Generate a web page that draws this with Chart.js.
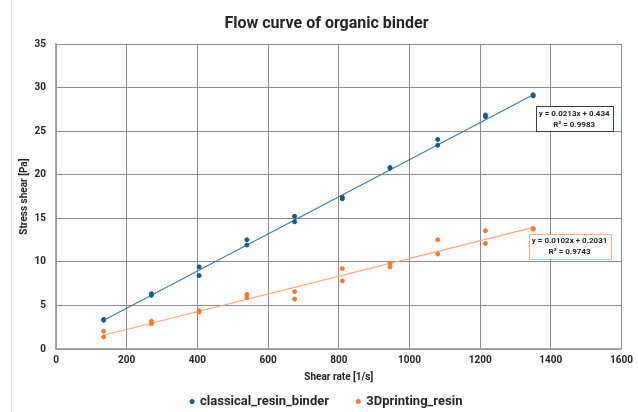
<!DOCTYPE html>
<html>
<head>
<meta charset="utf-8">
<script src="https://cdn.jsdelivr.net/npm/chart.js@4/dist/chart.umd.min.js"></script>
<style>
  html, body { margin: 0; padding: 0; background: #fff; }
  #wrap { position: relative; width: 638px; height: 412px; }
  #wrap:before { content: ''; position: absolute; left: 11px; top: 0; bottom: 0; border-left: 1px solid #d9d9d9; }
</style>
</head>
<body>
<div id="wrap"><canvas id="flowChart" width="638" height="412"></canvas></div>
<script>
// Shear rates [1/s], two measurements per rate
const shearRates = [135, 270, 405, 540, 675, 810, 945, 1080, 1215, 1350];
const classicalRun1 = [3.40, 6.35, 9.43, 12.55, 15.24, 17.43, 20.85, 24.06, 26.87, 29.20];
const classicalRun2 = [3.30, 6.16, 8.43, 11.94, 14.60, 17.25, 20.75, 23.40, 26.67, 29.05];
const printingRun1 = [2.04, 3.20, 4.39, 6.28, 6.58, 9.24, 9.82, 12.55, 13.59, 13.85];
const printingRun2 = [1.39, 2.89, 4.24, 5.89, 5.74, 7.82, 9.44, 10.90, 12.12, 13.75];

// Trendline coefficients as printed on the chart
const classicalFit = { slope: 0.0213, intercept: 0.434, label: ['y = 0.0213x + 0.434', 'R² = 0.9983'] };
const printingFit = { slope: 0.0102, intercept: 0.2031, label: ['y = 0.0102x + 0.2031', 'R² = 0.9743'] };

const FONT = 'Roboto, "Noto Sans", sans-serif';
const BLUE = '#1b5a82';
const ORANGE = '#ee7d35';

function points(xs, ys) {
    return xs.map((x, i) => ({ x: x, y: ys[i] }));
}

function fitLine(fit) {
    const x0 = shearRates[0];
    const x1 = shearRates[shearRates.length - 1];
    return [
        { x: x0, y: fit.slope * x0 + fit.intercept },
        { x: x1, y: fit.slope * x1 + fit.intercept }
    ];
}

// Draws the equation boxes next to the trendlines
const equationBoxes = {
    id: 'equationBoxes',
    afterDatasetsDraw(chart) {
        const ctx = chart.ctx;
        const xs = chart.scales.x, ys = chart.scales.y;
        const boxes = [
            { fit: classicalFit, x: 1466, y: 26.45, border: '#243f60' },
            { fit: printingFit, x: 1453, y: 11.8, border: '#f4b183' }
        ];
        ctx.save();
        ctx.font = 'bold 8px ' + FONT;
        ctx.textAlign = 'center';
        ctx.textBaseline = 'middle';
        boxes.forEach(b => {
            const cx = xs.getPixelForValue(b.x);
            const cy = ys.getPixelForValue(b.y);
            const w = Math.max(...b.fit.label.map(t => ctx.measureText(t).width)) + 6;
            const h = 25;
            ctx.fillStyle = '#fff';
            ctx.fillRect(cx - w / 2, cy - h / 2, w, h);
            ctx.strokeStyle = b.border;
            ctx.lineWidth = 1;
            ctx.strokeRect(Math.round(cx - w / 2) + 0.5, Math.round(cy - h / 2) + 0.5, Math.round(w), h);
            ctx.fillStyle = '#262626';
            ctx.fillText(b.fit.label[0], cx, cy - 5);
            ctx.fillText(b.fit.label[1], cx, cy + 6);
        });
        ctx.restore();
    }
};

const ctx = document.getElementById('flowChart').getContext('2d');
new Chart(ctx, {
    type: 'scatter',
    data: {
        datasets: [
            {
                label: 'classical_resin_binder',
                data: points(shearRates, classicalRun1).concat(points(shearRates, classicalRun2)),
                backgroundColor: BLUE,
                borderColor: BLUE,
                pointRadius: 2,
                order: 1
            },
            {
                label: '3Dprinting_resin',
                data: points(shearRates, printingRun1).concat(points(shearRates, printingRun2)),
                backgroundColor: ORANGE,
                borderColor: ORANGE,
                pointRadius: 2,
                order: 1
            },
            {
                label: 'classical_fit',
                type: 'line',
                data: fitLine(classicalFit),
                borderColor: '#3f7fa6',
                borderWidth: 1.2,
                pointRadius: 0,
                order: 2
            },
            {
                label: 'printing_fit',
                type: 'line',
                data: fitLine(printingFit),
                borderColor: '#f5a878',
                borderWidth: 1.2,
                pointRadius: 0,
                order: 2
            }
        ]
    },
    options: {
        responsive: false,
        animation: false,
        layout: { padding: { left: 30, right: 15, top: 0, bottom: -6 } },
        plugins: {
            title: {
                display: true,
                text: 'Flow curve of organic binder',
                color: '#262626',
                font: { family: FONT, size: 16, weight: 'bold' },
                padding: { top: 14, bottom: 11 }
            },
            legend: {
                position: 'bottom',
                labels: {
                    generateLabels(chart) {
                        const items = Chart.defaults.plugins.legend.labels.generateLabels(chart).filter(i => i.datasetIndex < 2);
                        items[0].text = items[0].text + '        ';
                        return items;
                    },
                    usePointStyle: true,
                    pointStyle: 'circle',
                    boxWidth: 3,
                    boxHeight: 3,
                    padding: 2,
                    color: '#262626',
                    font: { family: FONT, size: 13, weight: 'bold' }
                }
            },
            tooltip: { enabled: false }
        },
        scales: {
            x: {
                type: 'linear',
                min: 0,
                max: 1600,
                ticks: {
                    stepSize: 200,
                    padding: 5,
                    color: '#262626',
                    callback: v => String(v),
                    font: { family: FONT, size: 10, weight: 'bold' }
                },
                grid: { color: '#8c8c8c', drawTicks: false },
                border: { color: '#a6a6a6', width: 1.5 },
                title: {
                    display: true,
                    text: 'Shear rate [1/s]',
                    color: '#262626',
                    padding: { top: 4, bottom: 10 },
                    font: { family: FONT, size: 10, weight: 'bold' }
                },
                afterFit(scale) { scale.height = 44; }
            },
            y: {
                min: 0,
                max: 35,
                ticks: {
                    stepSize: 5,
                    padding: 10,
                    color: '#262626',
                    font: { family: FONT, size: 10, weight: 'bold' }
                },
                grid: { color: '#8c8c8c', drawTicks: false },
                border: { color: '#a6a6a6', width: 1.5 },
                title: {
                    display: true,
                    text: 'Stress shear [Pa]',
                    color: '#262626',
                    padding: { top: -12, bottom: 6 },
                    font: { family: FONT, size: 10, weight: 'bold' }
                },
                afterFit(scale) { scale.width = 26; }
            }
        }
    },
    plugins: [equationBoxes]
});
</script>
</body>
</html>
